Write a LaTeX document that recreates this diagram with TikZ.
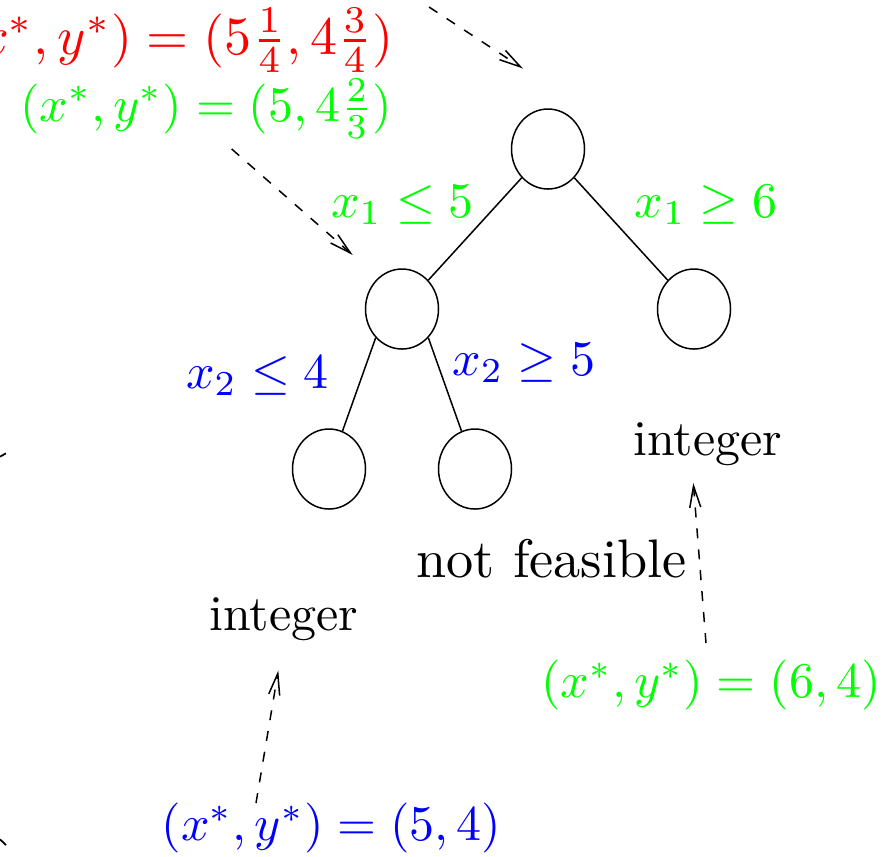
\documentclass[tikz,border=0pt]{standalone}
\usetikzlibrary{shapes.geometric,arrows.meta}
\begin{document}
\begin{tikzpicture}[x=0.2pt,y=-0.2pt,
  bnode/.style={ellipse,draw,line width=0.3pt,minimum width=14.6pt,minimum height=16pt,inner sep=0pt},
  branch/.style={line width=0.3pt},
  pointer/.style={dash pattern=on 2pt off 2.2pt,line width=0.3pt,-{Straight Barb[length=4.3pt,width=2.2pt]}},
  lbl/.style={inner sep=0pt,anchor=base},
  tickmark/.style={line width=0.35pt}]
\useasboundingbox (0,0) rectangle (891,856);
\clip (0,0) rectangle (891,856);
% tree nodes
\node[bnode] (root) at (548,149) {};
\node[bnode] (l) at (402,309) {};
\node[bnode] (r) at (694,309) {};
\node[bnode] (ll) at (329,469) {};
\node[bnode] (lr) at (475,469) {};
\draw[branch] (root.south west) -- (l);
\draw[branch] (root.south east) -- (r);
\draw[branch] (l.south west) -- (ll);
\draw[branch] (l.south east) -- (lr);
% branch labels
\node[lbl,green] (b1) at (402.5,217) {$x_1 \leq 5$};
\node[lbl,green] (b2) at (706,217) {$x_1 \geq 6$};
\node[lbl,blue] (b3) at (257.5,388) {$x_2 \leq 4$};
\node[lbl,blue] (b4) at (524,375) {$x_2 \geq 5$};
% status texts
\node[lbl] (int1) at (708,455) {integer};
\node[lbl] (nf) at (551.7,577) {\scalebox{1.085}{not feasible}};
\node[lbl] (int2) at (284,630) {integer};
% solution texts
\node[lbl,anchor=base east,red] (s0) at (394,54) {\scalebox{1.08}{$(x^*,y^*)=(5\frac{1}{4},4\frac{3}{4})$}};
\node[lbl,anchor=base east,green] (s1) at (393,121) {$(x^*,y^*)=(5,4\frac{2}{3})$};
\node[lbl,green] (s2) at (711,697.5) {$(x^*,y^*)=(6,4)$};
\node[lbl,blue] (s3) at (331.5,840.5) {$(x^*,y^*)=(5,4)$};
% pointers
\coordinate (p1s) at (429,7);
\coordinate (p1e) at (523,68.5);
\coordinate (p2s) at (231.7,149);
\coordinate (p2e) at (352.7,255);
\coordinate (p3s) at (706,643);
\coordinate (p3e) at (693.3,483);
\coordinate (p4s) at (256,803);
\coordinate (p4e) at (278.3,670.5);
\draw[pointer] (p1s) -- (p1e);
\draw[pointer] (p2s) -- (p2e);
\draw[pointer] (p3s) -- (p3e);
\draw[pointer] (p4s) -- (p4e);
% fragments at the left edge
\draw[tickmark] (0,456.7) -- (6,453.3);
\draw[tickmark] (0,839.3) -- (6,845);
\end{tikzpicture}
\end{document}
